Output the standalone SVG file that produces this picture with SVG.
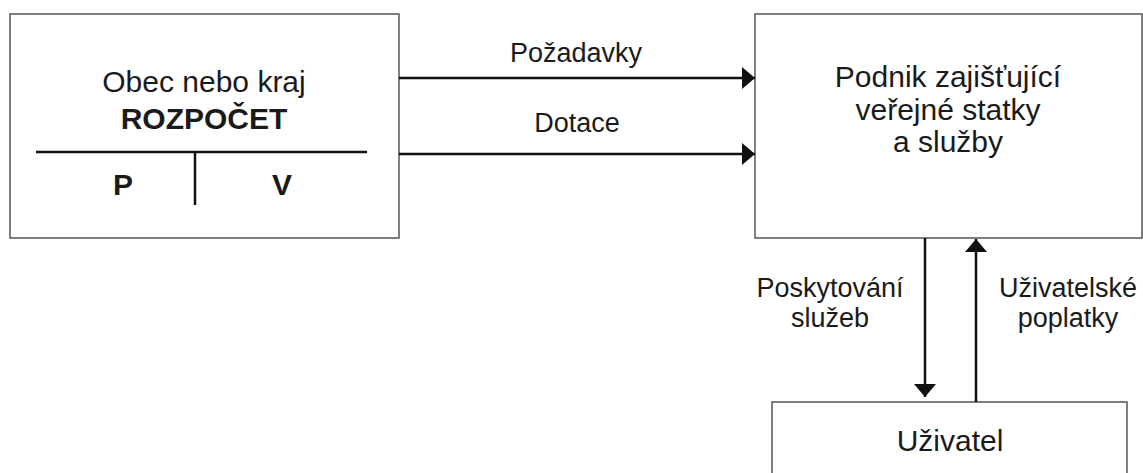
<svg xmlns="http://www.w3.org/2000/svg" width="1143" height="473" viewBox="0 0 1143 473">
<style>
.box{fill:#fff;stroke:#555;stroke-width:1.5}
.t{font-family:"Liberation Sans",Arial,sans-serif;fill:#1a1a1a;text-anchor:middle}
.main{font-size:30px}
.b{font-weight:bold}
.lbl{font-size:27px}
.ln{stroke:#111;stroke-width:2.5;fill:none}
.arr{stroke:#111;stroke-width:2.5;fill:none;marker-end:url(#ah)}
</style>
<defs>
<marker id="ah" viewBox="0 0 13 22" refX="13" refY="11" markerWidth="13" markerHeight="22" markerUnits="userSpaceOnUse" orient="auto">
<path d="M0,0 L13,11 L0,22 Z" fill="#111"/>
</marker>
</defs>
<rect width="1143" height="473" fill="#fff"/>
<g id="rozpocet">
<rect class="box" x="10" y="14" width="389" height="224"/>
<text class="t main" x="204" y="92">Obec nebo kraj</text>
<text class="t main b" x="204" y="129">ROZPOČET</text>
<line class="ln" x1="36" y1="152" x2="367" y2="152"/>
<line class="ln" x1="195" y1="152" x2="195" y2="205"/>
<text class="t main b" x="123" y="195">P</text>
<text class="t main b" x="282" y="195">V</text>
</g>
<g id="podnik">
<rect class="box" x="755" y="14" width="387" height="224"/>
<text class="t main" x="948" y="87">Podnik zajišťující</text>
<text class="t main" x="948" y="120">veřejné statky</text>
<text class="t main" x="948" y="152">a služby</text>
</g>
<g id="uzivatel">
<rect class="box" x="772" y="402" width="355" height="90"/>
<text class="t main" x="950" y="451">Uživatel</text>
</g>
<g id="connectors">
<line class="arr" x1="399" y1="78" x2="755" y2="78"/>
<line class="arr" x1="399" y1="154" x2="755" y2="154"/>
<line class="arr" x1="925" y1="238" x2="925" y2="397"/>
<line class="arr" x1="976" y1="402" x2="976" y2="239"/>
<text class="t lbl" x="576" y="62">Požadavky</text>
<text class="t lbl" x="577" y="132">Dotace</text>
<text class="t lbl" x="830" y="297">Poskytování</text>
<text class="t lbl" x="830" y="327">služeb</text>
<text class="t lbl" x="1068" y="297">Uživatelské</text>
<text class="t lbl" x="1068" y="327">poplatky</text>
</g>
</svg>
